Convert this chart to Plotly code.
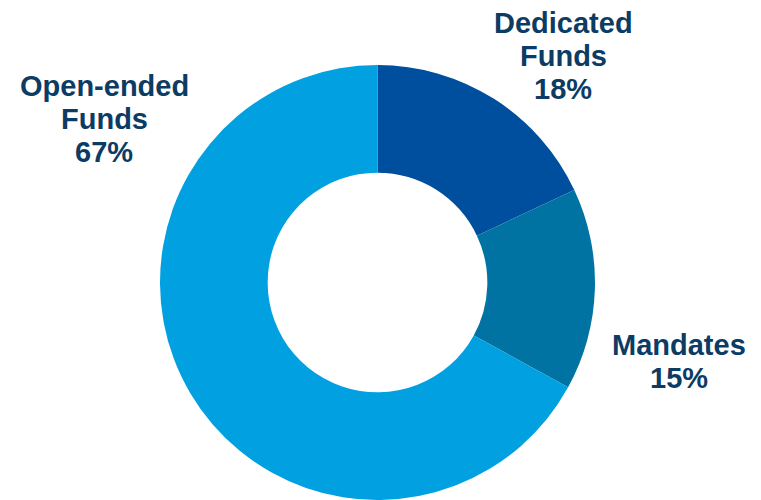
import plotly.graph_objects as go

# Allocation by vehicle type
categories = ["Dedicated Funds", "Mandates", "Open-ended Funds"]
shares = [18, 15, 67]
colors = ["#004F9E", "#0073A2", "#00A0E1"]

W, H = 761, 500
TEXT_COLOR = "#0C3B63"
FONT = "Liberation Sans, Arial, sans-serif"
FONT_SIZE = 29
LINE_PITCH = 33

# label block placement: centre x and first-line baseline, in pixels
label_pos = {
    "Dedicated Funds": (563, 33),
    "Mandates": (679, 355),
    "Open-ended Funds": (104, 96),
}

fig = go.Figure(
    go.Pie(
        labels=categories,
        values=shares,
        hole=0.505,
        sort=False,
        direction="clockwise",
        rotation=0,
        marker=dict(colors=colors, line=dict(width=0)),
        textinfo="none",
        hoverinfo="label+percent",
        domain=dict(x=[0.2102, 0.7819], y=[0.0, 0.87]),
        showlegend=False,
    )
)

annotations = []
for cat, val in zip(categories, shares):
    lines = cat.split(" ") + [f"{val}%"]
    cx, base = label_pos[cat]
    for i, line in enumerate(lines):
        yb = base + i * LINE_PITCH
        ymid = yb - 10  # approximate cap-height centre
        annotations.append(
            dict(
                text=f"<b>{line}</b>",
                x=cx / W,
                y=1 - ymid / H,
                xref="paper",
                yref="paper",
                xanchor="center",
                yanchor="middle",
                showarrow=False,
                font=dict(family=FONT, size=FONT_SIZE, color=TEXT_COLOR),
            )
        )

fig.update_layout(
    width=W,
    height=H,
    margin=dict(l=0, r=0, t=0, b=0),
    paper_bgcolor="white",
    plot_bgcolor="white",
    annotations=annotations,
)

fig.write_html("out.html")
